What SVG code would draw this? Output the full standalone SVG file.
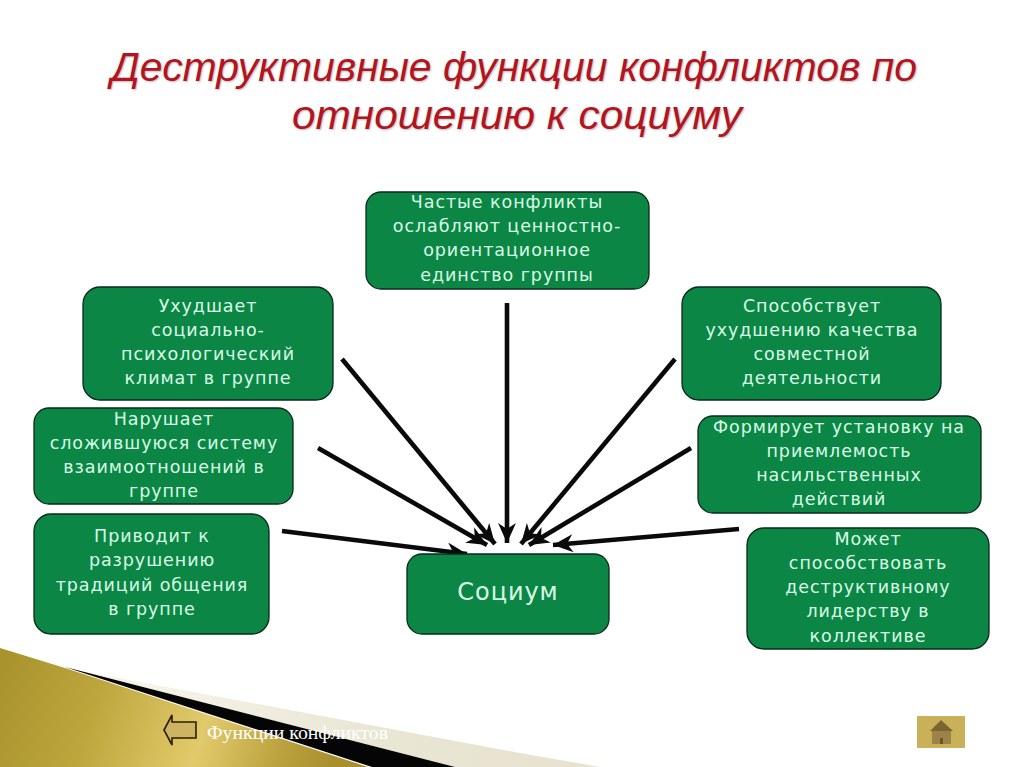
<svg xmlns="http://www.w3.org/2000/svg" width="1024" height="767" viewBox="0 0 1024 767">
<defs>
<linearGradient id="gold" gradientUnits="userSpaceOnUse" x1="0" y1="660" x2="330" y2="767"><stop offset="0" stop-color="#a8922c"/><stop offset="0.3" stop-color="#bda63c"/><stop offset="0.62" stop-color="#e2ca6c"/><stop offset="0.85" stop-color="#bca23e"/><stop offset="1" stop-color="#a98f2e"/></linearGradient>
<linearGradient id="cream" gradientUnits="userSpaceOnUse" x1="150" y1="0" x2="600" y2="0"><stop offset="0" stop-color="#f6f4e8"/><stop offset="0.5" stop-color="#e9e6d4"/><stop offset="1" stop-color="#e6e2ce"/></linearGradient>
<marker id="ah" markerUnits="userSpaceOnUse" markerWidth="22" markerHeight="18" refX="20" refY="9" orient="auto"><path d="M0 0L20 9L0 18L6 9Z" fill="#0a0a0a"/></marker>
<style>
.box{fill:#0b8645;stroke:#0a2a18;stroke-width:1.3}
.t{font-family:"DejaVu Sans","Noto Sans",sans-serif;font-size:17.5px;letter-spacing:.93px;fill:#d9fbe6;text-anchor:middle}
.title{font-family:"Liberation Sans","Noto Sans",sans-serif;font-style:italic;font-size:41px;fill:#b3141f;text-anchor:middle;text-shadow:1px 1px 2px #bbbbbb}
.c{stroke:#0a0a0a;stroke-width:4.6;fill:none;marker-end:url(#ah)}
</style>
</defs>
<rect width="1024" height="767" fill="#fff"/>
<g id="decor">
<path d="M65 668L520 753L600 767H455Z" fill="url(#cream)"/>
<path d="M65 667L372 767H455Z" fill="#050505"/>
<path d="M0 648L65 668L368 767H0Z" fill="url(#gold)"/>
</g>
<g id="title">
<text class="title" x="514" y="81" textLength="806" lengthAdjust="spacingAndGlyphs">Деструктивные функции конфликтов по</text>
<text class="title" x="517" y="129" textLength="450" lengthAdjust="spacingAndGlyphs">отношению к социуму</text>
</g>
<g id="connectors">
<line class="c" x1="507" y1="303" x2="507" y2="543"/>
<line class="c" x1="342" y1="359" x2="495" y2="544"/>
<line class="c" x1="675" y1="359" x2="521" y2="544"/>
<line class="c" x1="318" y1="448" x2="487" y2="545"/>
<line class="c" x1="691" y1="448" x2="529" y2="545"/>
<line class="c" x1="282" y1="531" x2="467" y2="554"/>
<line class="c" x1="739" y1="529" x2="553" y2="545"/>
</g>
<g id="n1"><rect class="box" x="366" y="192" width="283" height="97" rx="15"/>
<text class="t" x="507" y="208">Частые конфликты</text><text class="t" x="507" y="232">ослабляют ценностно-</text><text class="t" x="507" y="256">ориентационное</text><text class="t" x="507" y="281">единство группы</text></g>
<g id="n2"><rect class="box" x="83" y="287" width="250" height="113" rx="17"/>
<text class="t" x="208" y="312">Ухудшает</text><text class="t" x="208" y="336">социально-</text><text class="t" x="208" y="360">психологический</text><text class="t" x="208" y="384">климат в группе</text></g>
<g id="n3"><rect class="box" x="682" y="287" width="259" height="113" rx="17"/>
<text class="t" x="812" y="312">Способствует</text><text class="t" x="812" y="336">ухудшению качества</text><text class="t" x="812" y="360">совместной</text><text class="t" x="812" y="384">деятельности</text></g>
<g id="n4"><rect class="box" x="34" y="408" width="259" height="96" rx="15"/>
<text class="t" x="164" y="425">Нарушает</text><text class="t" x="164" y="449">сложившуюся систему</text><text class="t" x="164" y="473">взаимоотношений в</text><text class="t" x="164" y="497">группе</text></g>
<g id="n5"><rect class="box" x="698" y="416" width="283" height="97" rx="15"/>
<text class="t" x="839" y="433">Формирует установку на</text><text class="t" x="839" y="457">приемлемость</text><text class="t" x="839" y="481">насильственных</text><text class="t" x="839" y="505">действий</text></g>
<g id="n6"><rect class="box" x="34" y="514" width="235" height="120" rx="17"/>
<text class="t" x="152" y="542">Приводит к</text><text class="t" x="152" y="566">разрушению</text><text class="t" x="152" y="591">традиций общения</text><text class="t" x="152" y="615">в группе</text></g>
<g id="n7"><rect class="box" x="747" y="528" width="242" height="121" rx="17"/>
<text class="t" x="868" y="545">Может</text><text class="t" x="868" y="569">способствовать</text><text class="t" x="868" y="593">деструктивному</text><text class="t" x="868" y="617">лидерству в</text><text class="t" x="868" y="642">коллективе</text></g>
<g id="n8"><rect class="box" x="407" y="554" width="202" height="80" rx="15"/>
<text class="t" x="508" y="600" style="font-size:24px">Социум</text></g>
<g id="nav-back"><path d="M164 730L172 715V722H196V738H172V745Z" fill="#cdb462" stroke="#2a1e08" stroke-width="1.6"/>
<text x="207" y="739" font-family="Liberation Serif,serif" font-size="19" textLength="181" lengthAdjust="spacingAndGlyphs" fill="#ffffff">Функции конфликтов</text></g>
<g id="nav-home"><rect x="917" y="716" width="48" height="32" fill="#c9b15a"/>
<path d="M932 731H951V744H932Z" fill="#9c8348"/><path d="M930 731L941 720L953 731Z" fill="#7c6530"/><rect x="940" y="738" width="3" height="6" fill="#6e5622"/></g>
</svg>
